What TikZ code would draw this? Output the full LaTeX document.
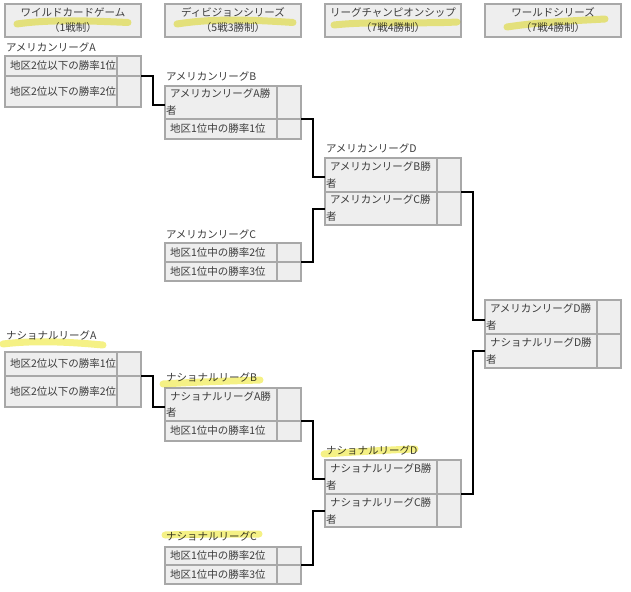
\documentclass[tikz,border=0pt]{standalone}
\usepackage{fontspec}
\setmainfont{Noto Sans CJK JP}
\definecolor{txt}{HTML}{3C3C3C}
\definecolor{cellfill}{HTML}{EEEEEE}
\definecolor{cellline}{HTML}{A8A8A8}
\definecolor{hl}{HTML}{F3EE70}
\newcommand\gametable[7]{%
  \node[cell, minimum height=#4-#3] (#1-1) at (#2,#3) {#6};
  \node[score, minimum height=#4-#3] (#1-1s) at (#2+112,#3) {};
  \node[cell, minimum height=#5-#4] (#1-2) at (#2,#4) {#7};
  \node[score, minimum height=#5-#4] (#1-2s) at (#2+112,#4) {};
}
\begin{document}
\begin{tikzpicture}[x=1pt,y=-1pt,
  base/.style={inner sep=0pt, outer sep=0pt, text=txt, font=\fontsize{10.5}{17}\selectfont},
  hdr/.style={base, draw=cellline, fill=cellfill, line width=1.2pt, minimum width=136pt, minimum height=33pt, anchor=north west, align=center, font=\fontsize{10.5}{15}\selectfont},
  cell/.style={base, draw=cellline, fill=cellfill, line width=1.2pt, anchor=north west, text width=110pt, inner xsep=1pt, align=left},
  score/.style={base, draw=cellline, fill=cellfill, line width=1.2pt, anchor=north west, minimum width=24pt},
  lbl/.style={base, anchor=west},
  conn/.style={draw=black, line width=2pt},
  marker/.style={draw=hl, line width=7pt, line cap=round, opacity=0.85, blend mode=multiply}
]
\useasboundingbox (0,0) rectangle (631,591);

% headers
\node[hdr] (h1) at (5,4) {ワイルドカードゲーム\\（1戦制）};
\node[hdr] (h2) at (165,4) {ディビジョンシリーズ\\（5戦3勝制）};
\node[hdr] (h3) at (325,4) {リーグチャンピオンシップ\\（7戦4勝制）};
\node[hdr] (h4) at (485,4) {ワールドシリーズ\\（7戦4勝制）};

% labels
\node[lbl] (aal) at (6,47) {アメリカンリーグA};
\node[lbl] (abl) at (166,76) {アメリカンリーグB};
\node[lbl] (acl) at (166,234) {アメリカンリーグC};
\node[lbl] (adl) at (326,148) {アメリカンリーグD};
\node[lbl] (nal) at (6,335) {ナショナルリーグA};
\node[lbl] (nbl) at (166,377) {ナショナルリーグB};
\node[lbl] (ncl) at (166,536) {ナショナルリーグC};
\node[lbl] (ndl) at (326,450) {ナショナルリーグD};

% tables
\gametable{aa}{5}{56}{76}{107}{\hspace*{4pt}地区2位以下の勝率1位}{\hspace*{4pt}地区2位以下の勝率2位}
\gametable{ab}{165}{86}{119}{139}{\hspace*{4pt}アメリカンリーグA勝\\者}{\hspace*{4pt}地区1位中の勝率1位}
\gametable{ac}{165}{243}{262}{281}{\hspace*{4pt}地区1位中の勝率2位}{\hspace*{4pt}地区1位中の勝率3位}
\gametable{ad}{325}{158}{192}{225}{\hspace*{4pt}アメリカンリーグB勝\\者}{\hspace*{4pt}アメリカンリーグC勝\\者}
\gametable{ws}{485}{300}{334}{368}{\hspace*{4pt}アメリカンリーグD勝\\者}{\hspace*{4pt}ナショナルリーグD勝\\者}
\gametable{na}{5}{352}{376}{407}{\hspace*{4pt}地区2位以下の勝率1位}{\hspace*{4pt}地区2位以下の勝率2位}
\gametable{nb}{165}{388}{421}{441}{\hspace*{4pt}ナショナルリーグA勝\\者}{\hspace*{4pt}地区1位中の勝率1位}
\gametable{nc}{165}{547}{565}{584}{\hspace*{4pt}地区1位中の勝率2位}{\hspace*{4pt}地区1位中の勝率3位}
\gametable{nd}{325}{460}{494}{527}{\hspace*{4pt}ナショナルリーグB勝\\者}{\hspace*{4pt}ナショナルリーグC勝\\者}

% connectors
\draw[conn] (aa-1s.south east) -- ++(12,0) |- ([yshift=-3pt]ab-1.west);
\draw[conn] (ab-1s.south east) -- ++(12,0) |- ([yshift=-2pt]ad-1.west);
\draw[conn] (ac-1s.south east) -- ++(12,0) |- (ad-2.west);
\draw[conn] (ad-1s.south east) -- ++(12,0) |- ([yshift=-3pt]ws-1.west);
\draw[conn] (na-1s.south east) -- ++(12,0) |- ([yshift=-2.5pt]nb-1.west);
\draw[conn] (nb-1s.south east) -- ++(12,0) |- ([yshift=-2pt]nd-1.west);
\draw[conn] (nc-1s.south east) -- ++(12,0) |- (nd-2.west);
\draw[conn] (nd-1s.south east) -- ++(12,0) |- (ws-2.west);

% highlighter strokes
\draw[marker] (17,24) .. controls (50,19) and (95,21) .. (128,22.5);
\draw[marker] (177,24) .. controls (215,18) and (255,20) .. (293,22.5);
\draw[marker] (334,25) .. controls (370,21) and (420,24) .. (457,22);
\draw[marker] (507,27) .. controls (540,22) and (570,21) .. (605,19);
\draw[marker] (3,344) .. controls (35,340) and (70,342) .. (103,345);
\draw[marker] (163,384) .. controls (195,382) and (230,381) .. (260,380);
\draw[marker] (324,454) .. controls (355,452) and (385,450) .. (415,449);
\draw[marker] (165,535) .. controls (195,534) and (230,534) .. (259,534);
\end{tikzpicture}
\end{document}
